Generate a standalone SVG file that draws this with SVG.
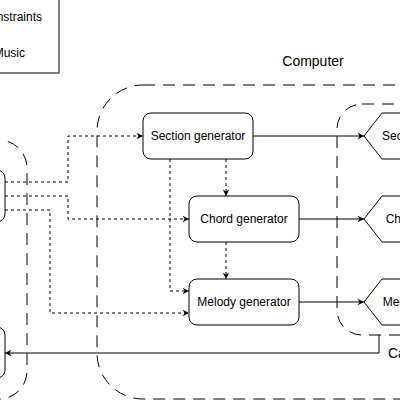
<svg xmlns="http://www.w3.org/2000/svg" width="400" height="400" viewBox="0 0 400 400">
<style>
  .cont{fill:none;stroke:#000;stroke-width:1;stroke-dasharray:12 8}
  .box{fill:#fff;stroke:#000;stroke-width:1}
  .t{font-family:"Liberation Sans",Arial,sans-serif;font-size:12px;fill:#000}
  .lbl{font-family:"Liberation Sans",Arial,sans-serif;font-size:14px;fill:#000}
  .solid{fill:none;stroke:#000;stroke-width:1}
  .dot{fill:none;stroke:#000;stroke-width:1;stroke-dasharray:3 3}
</style>
<defs>
  <marker id="arr" viewBox="0 0 10 10" refX="9" refY="5" markerWidth="8" markerHeight="8" markerUnits="userSpaceOnUse" orient="auto">
    <path d="M1,1 L9,5 L1,9 L3.5,5 z" fill="#000"/>
  </marker>
</defs>
<rect width="400" height="400" fill="#fff"/>

<g id="legend">
  <rect x="-60" y="-10" width="119" height="83" class="box"/>
  <text x="42" y="21" class="t" text-anchor="end">Constraints</text>
  <text x="25" y="57" class="t" text-anchor="end">Music</text>
</g>

<g id="computer">
  <rect x="97" y="85" width="400" height="314" rx="46" class="cont"/>
  <text x="313" y="66" class="lbl" text-anchor="middle">Computer</text>
</g>

<g id="left-container">
  <rect x="-60" y="140" width="87" height="259" rx="28" class="cont"/>
</g>

<g id="output-container">
  <rect x="337" y="104" width="100" height="231" rx="25" class="cont"/>
  <text x="388" y="358" class="lbl">Ca</text>
</g>

<g id="left-node-top">
  <rect x="-60" y="170" width="65" height="52" rx="8" class="box"/>
</g>
<g id="left-node-bottom">
  <rect x="-60" y="327" width="65" height="51" rx="8" class="box"/>
</g>

<g id="section-generator">
  <rect x="143" y="113" width="110" height="46" rx="8" class="box"/>
  <text x="198" y="140" class="t" text-anchor="middle">Section generator</text>
</g>
<g id="chord-generator">
  <rect x="189" y="196" width="110" height="46" rx="8" class="box"/>
  <text x="244" y="223" class="t" text-anchor="middle">Chord generator</text>
</g>
<g id="melody-generator">
  <rect x="189" y="279" width="110" height="46" rx="8" class="box"/>
  <text x="244" y="306" class="t" text-anchor="middle">Melody generator</text>
</g>

<g id="section-out">
  <polygon points="364,136 382,113 430,113 448,136 430,159 382,159" class="box"/>
  <text x="402" y="140" class="t" text-anchor="middle">Section</text>
</g>
<g id="chord-out">
  <polygon points="364,219 382,196 430,196 448,219 430,242 382,242" class="box"/>
  <text x="402" y="223" class="t" text-anchor="middle">Chord</text>
</g>
<g id="melody-out">
  <polygon points="364,302 382,279 430,279 448,302 430,325 382,325" class="box"/>
  <text x="402" y="306" class="t" text-anchor="middle">Melody</text>
</g>

<g id="connectors">
  <path d="M5,182 H68 V136 H143" class="dot" marker-end="url(#arr)"/>
  <path d="M5,196 H68 V219 H189" class="dot" marker-end="url(#arr)"/>
  <path d="M5,210 H50 V313 H189" class="dot" marker-end="url(#arr)"/>
  <path d="M226,159 V196" class="dot" marker-end="url(#arr)"/>
  <path d="M226,242 V279" class="dot" marker-end="url(#arr)"/>
  <path d="M170,159 V291 H189" class="dot" marker-end="url(#arr)"/>
  <path d="M253,136 H364" class="solid" marker-end="url(#arr)"/>
  <path d="M299,219 H364" class="solid" marker-end="url(#arr)"/>
  <path d="M299,302 H364" class="solid" marker-end="url(#arr)"/>
  <path d="M379,335 V353 H5" class="solid" marker-end="url(#arr)"/>
</g>
</svg>
